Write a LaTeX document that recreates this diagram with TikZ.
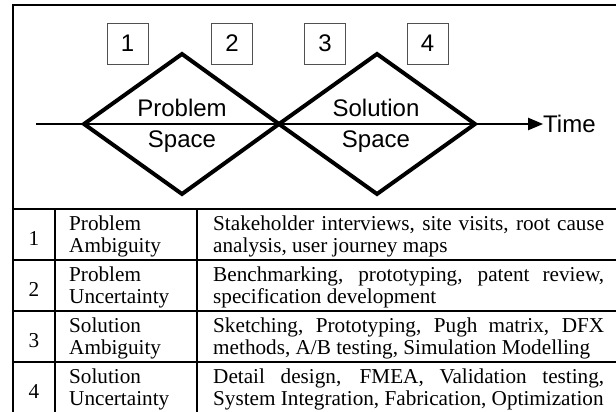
\documentclass[tikz,border=0pt]{standalone}
\usepackage{fontspec}
\setmainfont{Liberation Serif}
\newfontfamily\diagsans{Liberation Sans}
\usetikzlibrary{shapes,arrows}

\begin{document}
\begin{tikzpicture}[x=1pt,y=-1pt]
\useasboundingbox (0,0) rectangle (616,412);
\clip (0,0) rectangle (616,412);
\definecolor{boxColor}{RGB}{80,80,80}
\tikzset{numbox/.style={draw=boxColor,line width=0.9pt,minimum size=41pt,inner sep=0pt,font=\diagsans\fontsize{24}{24}\selectfont},
  spacelbl/.style={inner sep=0pt,anchor=base,font=\diagsans\fontsize{24}{24}\selectfont},
  cell/.style={inner sep=0pt,anchor=base west,font=\fontsize{21.2}{22.5}\selectfont}}
% frame round the whole figure
\draw[line width=2pt] (13,430) -- (13,5) -- (640,5);
% the two spaces
\coordinate (pL) at (84,124);
\coordinate (pT) at (182,54);
\coordinate (mid) at (279,124);
\coordinate (pB) at (182,194);
\coordinate (sT) at (377,54);
\coordinate (sR) at (475,124);
\coordinate (sB) at (377,194);
\draw[line width=4pt] (pL) -- (pT) -- (mid) -- (pB) -- cycle;
\draw[line width=4pt] (mid) -- (sT) -- (sR) -- (sB) -- cycle;
\node[spacelbl] (probA) at (182,116) {Problem};
\node[spacelbl] (probB) at (182,147) {Space};
\node[spacelbl] (solA) at (376,116) {Solution};
\node[spacelbl] (solB) at (376,147) {Space};
% time axis
\coordinate (t0) at (36,124);
\node[inner sep=0pt,anchor=west,font=\diagsans\fontsize{24}{24}\selectfont] (time) at (543,124) {Time};
\draw[->,>=triangle 45,line width=2.5pt] (t0) -- (time.west);
% numbered boxes
\foreach \n/\x in {1/127.5,2/232,3/325,4/427.5}
  \node[numbox] (box\n) at (\x,43.5) {\n};
% table
\draw[line width=2.5pt] (13,209) -- (640,209);
\foreach \y in {260,311,362}
  \draw[line width=1.5pt] (13,\y) -- (640,\y);
\foreach \x in {55,197}
  \draw[line width=1.5pt] (\x,209) -- (\x,430);
\foreach \r/\a/\b/\c in {1/Problem/Ambiguity/{Stakeholder interviews, site visits, root cause\linebreak analysis, user journey maps},
    2/Problem/Uncertainty/{Benchmarking, prototyping, patent review,\linebreak specification development},
    3/Solution/Ambiguity/{Sketching, Prototyping, Pugh matrix, DFX\linebreak methods, A/B testing, Simulation Modelling},
    4/Solution/Uncertainty/{Detail design, FMEA, Validation testing,\linebreak System Integration, Fabrication, Optimization}}
{
  \pgfmathsetmacro{\rowtop}{209+(\r-1)*51}
  \node[cell,anchor=base] (num\r) at (34,\rowtop+36) {\r};
  \node[cell,text width=125pt,align=left] (kind\r) at (69,\rowtop+21) {\a\\\b};
  \node[cell,text width=391pt,align=justify] (meth\r) at (213,\rowtop+21) {\c};
}
\end{tikzpicture}
\end{document}
